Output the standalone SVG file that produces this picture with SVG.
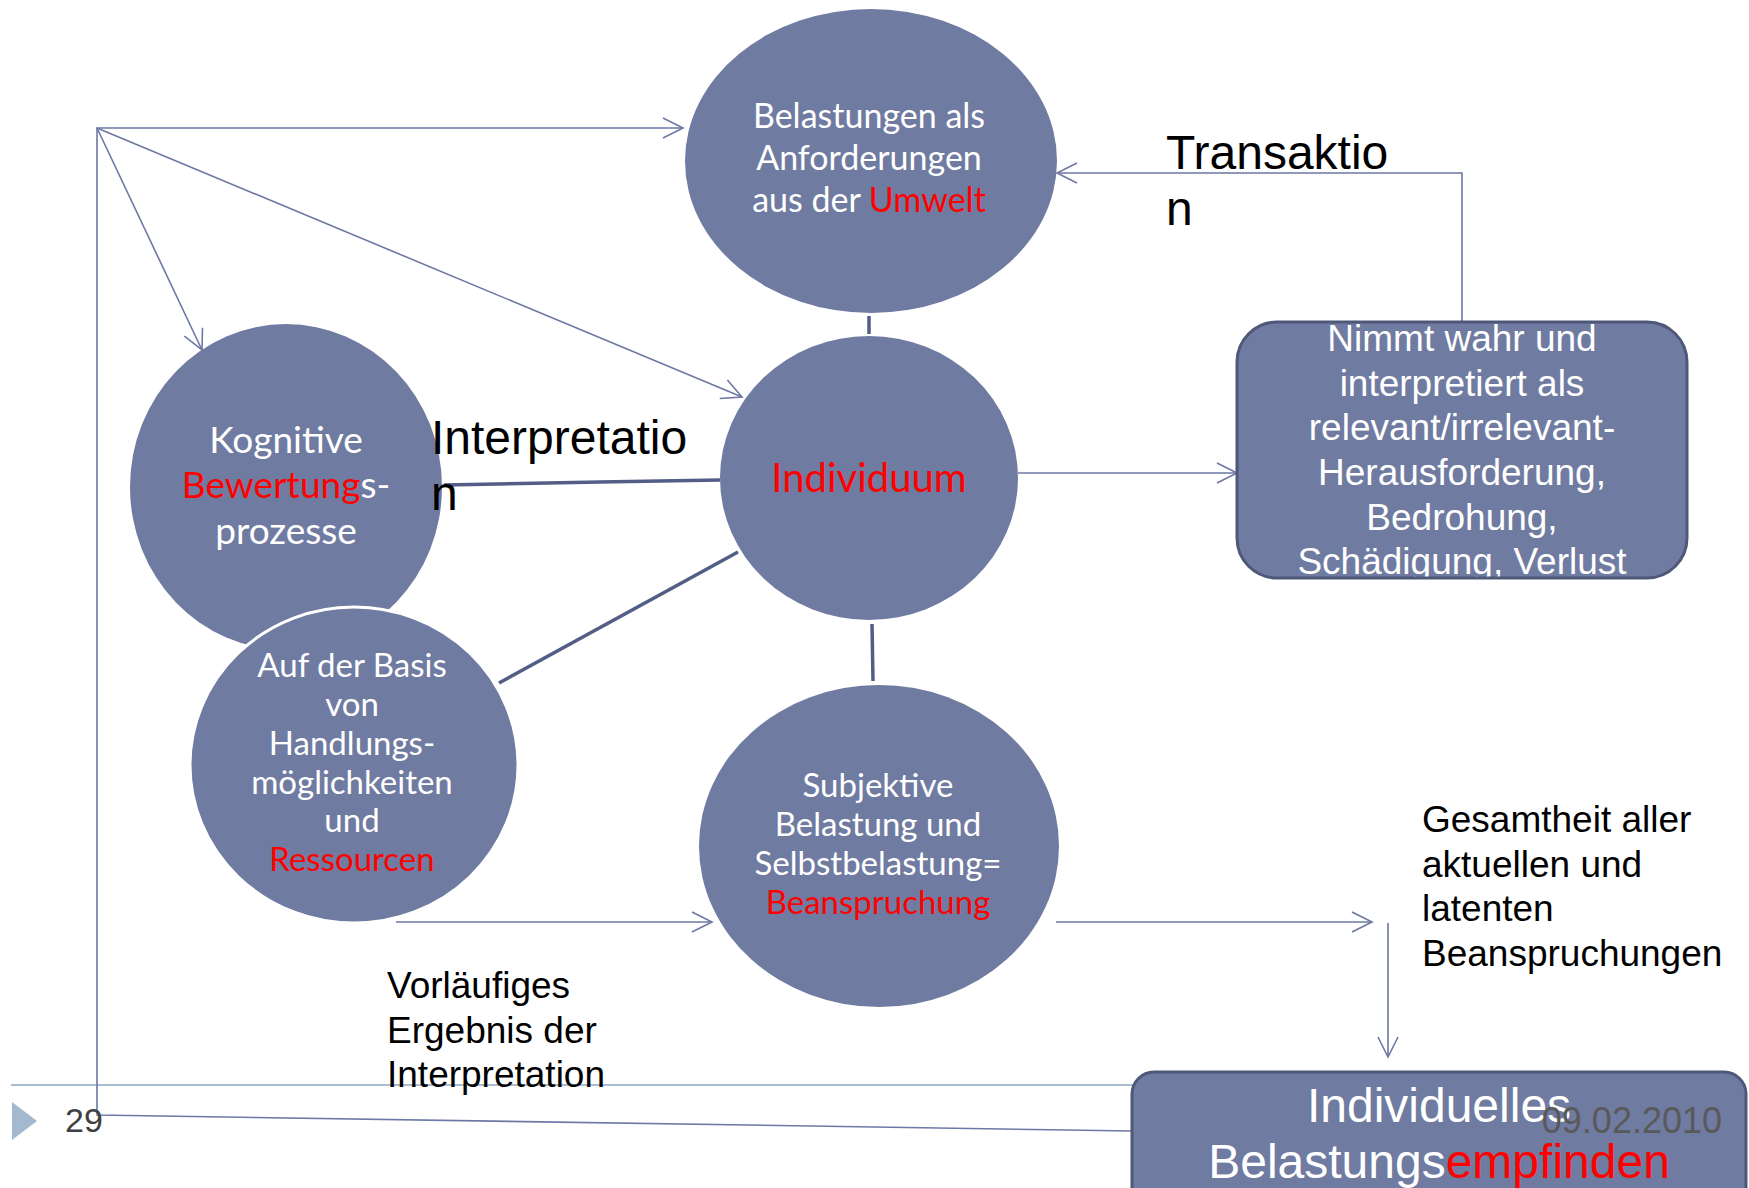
<svg xmlns="http://www.w3.org/2000/svg" width="1749" height="1188" viewBox="0 0 1749 1188">
<defs>
<marker id="arr" markerUnits="userSpaceOnUse" markerWidth="24" markerHeight="24" refX="21" refY="11" orient="auto" viewBox="0 0 24 22">
<path d="M1,1 L21,11 L1,21" fill="none" stroke="#6d78a4" stroke-width="1.6"/>
</marker>
<style>
.ell{fill:#707ba1}
.gill{font-family:Lato,"Open Sans",sans-serif;fill:#ffffff;text-anchor:middle}
.red{fill:#ff0000}
.ar{font-family:"Liberation Sans",Arial,sans-serif}
.wt{fill:#ffffff;text-anchor:middle}
.bk{fill:#000000}
.con{fill:none;stroke:#6d78a4;stroke-width:1.6}
.thick{fill:none;stroke:#535d85;stroke-width:3.5}
</style>
</defs>
<rect width="1749" height="1188" fill="#ffffff"/>

<g id="footer-line">
<line x1="11" y1="1085" x2="1140" y2="1085" stroke="#a9bcd0" stroke-width="2"/>
<polygon points="12,1102 37,1121 12,1140" fill="#a3b9cf"/>
</g>

<g id="connectors">
<polyline class="con" points="1132,1131 97,1115 97,128 683,128" marker-end="url(#arr)"/>
<line class="con" x1="97" y1="128" x2="202" y2="350" marker-end="url(#arr)"/>
<line class="con" x1="97" y1="128" x2="742" y2="397" marker-end="url(#arr)"/>
<polyline class="con" points="1462,322 1462,173 1057,173" marker-end="url(#arr)"/>
<line class="con" x1="1018" y1="473" x2="1237" y2="473" marker-end="url(#arr)"/>
<line class="con" x1="396" y1="922" x2="712" y2="922" marker-end="url(#arr)"/>
<line class="con" x1="1056" y1="922" x2="1372" y2="922" marker-end="url(#arr)"/>
<line class="con" x1="1388" y1="923" x2="1388" y2="1057" marker-end="url(#arr)"/>
<line class="thick" x1="869" y1="316" x2="869" y2="334"/>
<line class="thick" x1="872" y1="624" x2="873" y2="681"/>
<polyline class="thick" points="444,485 600,482 720,480"/>
<line class="thick" x1="499" y1="683" x2="738" y2="552"/>
</g>

<g id="node-umwelt">
<ellipse class="ell" cx="871" cy="161" rx="186" ry="152"/>
<text class="gill" font-size="34"><tspan x="869" y="128">Belastungen als</tspan><tspan x="869" y="170">Anforderungen</tspan><tspan x="869" y="212">aus der <tspan class="red">Umwelt</tspan></tspan></text>
</g>

<g id="node-individuum">
<ellipse class="ell" cx="869" cy="478" rx="149" ry="142"/>
<text class="gill red" font-size="40" x="869" y="492">Individuum</text>
</g>

<g id="node-kognitive">
<ellipse class="ell" cx="286" cy="487" rx="156" ry="163"/>
<text class="gill" font-size="37"><tspan x="286" y="453">Kognitive</tspan><tspan x="286" y="498"><tspan class="red">Bewertung</tspan>s-</tspan><tspan x="286" y="544">prozesse</tspan></text>
</g>

<g id="node-basis">
<ellipse class="ell" cx="354" cy="765" rx="164" ry="158" stroke="#ffffff" stroke-width="3"/>
<text class="gill" font-size="33"><tspan x="352" y="677">Auf der Basis</tspan><tspan x="352" y="716">von</tspan><tspan x="352" y="755">Handlungs-</tspan><tspan x="352" y="794">möglichkeiten</tspan><tspan x="352" y="832">und</tspan><tspan x="352" y="871" class="red">Ressourcen</tspan></text>
</g>

<g id="node-subjektive">
<ellipse class="ell" cx="879" cy="846" rx="180" ry="161"/>
<text class="gill" font-size="33"><tspan x="878" y="797">Subjektive</tspan><tspan x="878" y="836">Belastung und</tspan><tspan x="878" y="875">Selbstbelastung=</tspan><tspan x="878" y="914" class="red">Beanspruchung</tspan></text>
</g>

<g id="node-nimmt">
<rect x="1237" y="322" width="450" height="256" rx="40" fill="#707ba1"/>
<text class="ar wt" font-size="37"><tspan x="1462" y="351">Nimmt wahr und</tspan><tspan x="1462" y="396">interpretiert als</tspan><tspan x="1462" y="440">relevant/irrelevant-</tspan><tspan x="1462" y="485">Herausforderung,</tspan><tspan x="1462" y="530">Bedrohung,</tspan><tspan x="1462" y="574">Schädigung, Verlust</tspan></text>
<rect x="1237" y="322" width="450" height="256" rx="40" fill="none" stroke="#4f5878" stroke-width="3"/>
</g>

<g id="node-empfinden">
<rect x="1132" y="1072" width="614" height="150" rx="22" fill="#707ba1" stroke="#4f5878" stroke-width="3"/>
<text class="ar wt" font-size="48"><tspan x="1439" y="1122">Individuelles</tspan><tspan x="1439" y="1178">Belastungs<tspan class="red">empfinden</tspan></tspan></text>
</g>

<g id="labels">
<text class="ar bk" font-size="48"><tspan x="1166" y="169">Transaktio</tspan><tspan x="1166" y="225">n</tspan></text>
<text class="ar bk" font-size="48"><tspan x="431" y="454">Interpretatio</tspan><tspan x="431" y="510">n</tspan></text>
<text class="ar bk" font-size="37"><tspan x="1422" y="832">Gesamtheit aller</tspan><tspan x="1422" y="877">aktuellen und</tspan><tspan x="1422" y="921">latenten</tspan><tspan x="1422" y="966">Beanspruchungen</tspan></text>
<text class="ar bk" font-size="37"><tspan x="387" y="998">Vorläufiges</tspan><tspan x="387" y="1043">Ergebnis der</tspan><tspan x="387" y="1087">Interpretation</tspan></text>
</g>

<g id="footer">
<text class="ar" font-size="34" fill="#404040" x="65" y="1132">29</text>
<text class="ar" font-size="36" fill="#595959" x="1722" y="1133" text-anchor="end">09.02.2010</text>
</g>
</svg>
